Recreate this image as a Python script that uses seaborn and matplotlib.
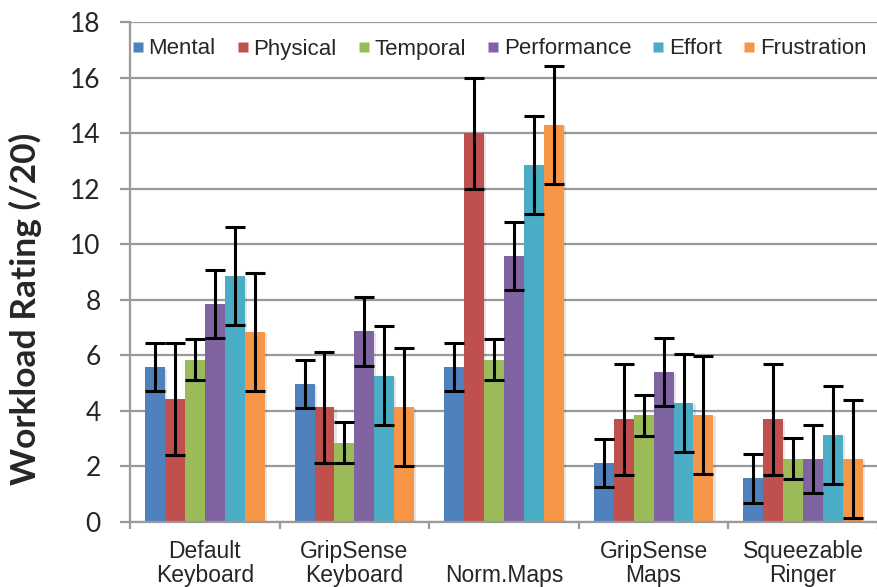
import matplotlib
matplotlib.use("Agg")
import matplotlib.pyplot as plt
import matplotlib.patheffects as pe
from matplotlib.lines import Line2D
import seaborn as sns
import pandas as pd

# Interfaces compared and NASA-TLX subscales
interfaces = ["Default\nKeyboard", "GripSense\nKeyboard", "\nNorm.Maps",
              "GripSense\nMaps", "Squeezable\nRinger"]
measures = ["Mental", "Physical", "Temporal", "Performance", "Effort", "Frustration"]

# Mean rating per subscale, one value per interface
mental      = [5.57, 4.98, 5.57, 2.12, 1.57]
physical    = [4.43, 4.13, 14.00, 3.70, 3.70]
temporal    = [5.85, 2.85, 5.85, 3.85, 2.28]
performance = [7.85, 6.86, 9.58, 5.40, 2.28]
effort      = [8.85, 5.27, 12.86, 4.29, 3.13]
frustration = [6.85, 4.14, 14.29, 3.85, 2.28]

# Error bar half-length per subscale
errors = [0.87, 2.00, 0.74, 1.23, 1.77, 2.13]

colors = ["#4F81BD", "#C0504D", "#9BBB59", "#8064A2", "#4BACC6", "#F79646"]

series = [mental, physical, temporal, performance, effort, frustration]
rows = []
for m, vals in zip(measures, series):
    for itf, v in zip(interfaces, vals):
        rows.append({"Interface": itf, "Measure": m, "Rating": v})
df = pd.DataFrame(rows)

sns.set_style("white")
plt.rcParams["font.family"] = ["Liberation Sans", "DejaVu Sans"]

fig = plt.figure(figsize=(8.78, 5.87), dpi=100)
ax = fig.add_axes([130 / 878, 65 / 587, 748 / 878, 500 / 587])

grid_col = "#9a9a9a"
ax.set_axisbelow(True)
ax.yaxis.grid(True, color=grid_col, linewidth=1.6)

sns.barplot(data=df, x="Interface", y="Rating", hue="Measure",
            order=interfaces, hue_order=measures, palette=colors,
            errorbar=None, width=0.8, saturation=1, ax=ax, legend=False)

shadow = [pe.SimplePatchShadow(offset=(1.5, -1.0), shadow_rgbFace="k", alpha=0.10),
          pe.Normal()]
for patch in ax.patches:
    patch.set_edgecolor("none")
    patch.set_path_effects(shadow)

# Error bars on top of each bar
for cont, err in zip(ax.containers, errors):
    xs = [b.get_x() + b.get_width() / 2 for b in cont]
    ys = [b.get_height() for b in cont]
    ax.errorbar(xs, ys, yerr=err, fmt="none", ecolor="black",
                elinewidth=2.2, capsize=7.5, capthick=2.2, zorder=5)

ax.set_ylim(0, 18)
ax.set_xlim(-0.5, len(interfaces) - 0.5)
ax.set_yticks(range(0, 19, 2))
ax.set_yticklabels([str(v) for v in range(0, 19, 2)],
                   fontfamily="Lato", fontsize=19)
ax.tick_params(axis="y", length=7, width=1.6, color=grid_col, pad=14,
               left=True)

# Category boundaries as major ticks, labels on minor ticks at centers
ax.set_xticks([i - 0.5 for i in range(len(interfaces) + 1)])
ax.set_xticklabels([])
ax.set_xticks(range(len(interfaces)), minor=True)
ax.set_xticklabels(interfaces, minor=True, fontsize=16.5, linespacing=1.08)
ax.tick_params(axis="x", which="major", length=5, width=1.6, color=grid_col,
               bottom=True)
ax.tick_params(axis="x", which="minor", length=0, pad=13)

ax.set_xlabel("")
ax.set_ylabel("Workload Rating (/20)", fontfamily="Lato", fontweight="bold",
              fontsize=25.5, va="center")
ax.yaxis.set_label_coords((25 - 130) / 748, (522 - 309) / 500)

for side in ["top", "right"]:
    ax.spines[side].set_visible(False)
for side in ["left", "bottom"]:
    ax.spines[side].set_color(grid_col)
    ax.spines[side].set_linewidth(1.6)

handles = [Line2D([], [], marker="s", linestyle="", markersize=6.5,
                  markerfacecolor=c, markeredgecolor="none") for c in colors]
ax.legend(handles, measures, loc="center left",
          bbox_to_anchor=(3 / 748, 1 - 27 / 500), frameon=False,
          ncol=6, fontsize=16, handlelength=0.45, handletextpad=0.25,
          columnspacing=1.0, borderpad=0, borderaxespad=0)

fig.savefig("out.png", dpi=100)
